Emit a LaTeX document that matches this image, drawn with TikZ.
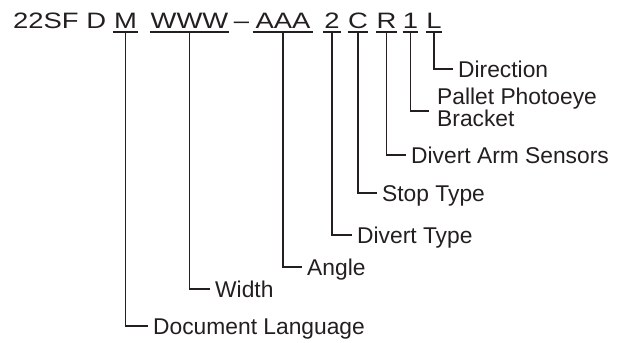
\documentclass[tikz,border=0pt]{standalone}
\usepackage{fontspec}
\setmainfont{Liberation Sans}
\newfontfamily\widefont[FakeStretch=1.23]{Liberation Sans}
\definecolor{ink}{HTML}{231F20}
\begin{document}
\begin{tikzpicture}[x=1pt,y=-1pt,
  code/.style={anchor=base,inner sep=0pt,text height=16pt,text depth=4pt,
    font=\widefont\fontsize{22.3}{26}\selectfont,text=ink},
  lbl/.style={anchor=west,inner xsep=5pt,inner ysep=0pt,text height=16pt,text depth=0pt,
    font=\fontsize{22.8}{20}\selectfont,text=ink},
  conn/.style={draw=ink,line width=1.6pt},
  uline/.style={draw=ink,line width=1.6pt}]
\useasboundingbox (0,0) rectangle (630,343);
% code string
\node[code,anchor=base west] (pre) at (13,28) {22SF D};
\node[code,minimum width=25pt] (m) at (125.5,28) {M};
\node[code,minimum width=79pt] (w) at (189.5,28) {WWW};
\node[code] (dash) at (241.5,28) {–};
\node[code,minimum width=60pt] (a) at (283,28) {AAA};
\node[code,minimum width=18pt] (two) at (332,28) {2};
\node[code,minimum width=20pt] (c) at (358,28) {C};
\node[code,minimum width=21pt] (r) at (386.5,28) {R};
\node[code,minimum width=13pt] (one) at (410.5,28) {1};
\node[code,minimum width=16pt] (l) at (434,28) {L};
% underlines
\foreach \n in {m,w,a,two,c,r,one,l}
  \draw[uline] (\n.south west) -- (\n.south east);
% labels
\node[lbl] (dir) at (453,69) {Direction};
\coordinate (palc) at (429,111);
\node[anchor=north west,inner sep=0pt,align=left,font=\fontsize{22.8}{20}\selectfont,text=ink]
  (pal) at (437,88) {Pallet Photoeye\\Bracket};
\node[lbl] (arm) at (406,155) {Divert Arm Sensors};
\node[lbl] (stop) at (377,193) {Stop Type};
\node[lbl] (dtype) at (352,235) {Divert Type};
\node[lbl] (ang) at (302,267) {Angle};
\node[lbl] (wid) at (210,289) {Width};
\node[lbl] (doc) at (148,326) {Document Language};
% connectors
\draw[conn] (l.south) |- (dir.west);
\draw[conn] (one.south) |- (palc);
\draw[conn] (r.south) |- (arm.west);
\draw[conn] (c.south) |- (stop.west);
\draw[conn] (two.south) |- (dtype.west);
\draw[conn] (a.south) |- (ang.west);
\draw[conn] (w.south) |- (wid.west);
\draw[conn] (m.south) |- (doc.west);
\end{tikzpicture}
\end{document}
